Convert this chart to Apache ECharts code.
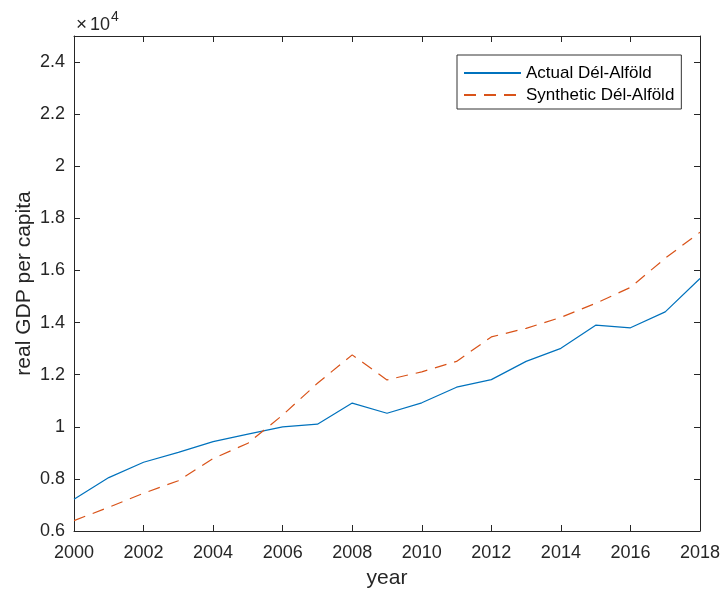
<!DOCTYPE html>
<html>
<head>
<meta charset="utf-8">
<script src="https://cdn.jsdelivr.net/npm/echarts@6/dist/echarts.min.js"></script>
<style>
html,body{margin:0;padding:0;background:#fff;}
#chart{width:723px;height:590px;}
</style>
</head>
<body>
<div id="chart"></div>
<script>
const years = [2000,2001,2002,2003,2004,2005,2006,2007,2008,2009,2010,2011,2012,2013,2014,2015,2016,2017,2018];
const actual = [7220,8050,8640,9020,9430,9720,10000,10100,10910,10520,10920,11520,11810,12510,13010,13900,13800,14410,15690];
const synthetic = [6400,6910,7450,7930,8780,9370,10450,11670,12760,11800,12110,12510,13450,13780,14200,14740,15350,16470,17470];
const seriesNames = ['Actual Dél-Alföld','Synthetic Dél-Alföld'];
const yTickValues = [6000,8000,10000,12000,14000,16000,18000,20000,22000,24000];

const FONT = '"Liberation Sans", Arial, sans-serif';
const INK = '#262626';

const chart = echarts.init(document.getElementById('chart'), null, {renderer:'canvas'});

const baseAxisLine = {show:true, lineStyle:{color:INK, width:1}};
const tick = {show:true, inside:true, length:6, lineStyle:{color:INK, width:1}};

chart.setOption({
  animation:false,
  backgroundColor:'#fff',
  grid:{left:74, right:23, top:36, bottom:59, containLabel:false, outerBoundsMode:'none'},
  legend:{
    orient:'vertical',
    left:457, top:55,
    data:seriesNames,
    backgroundColor:'#fff',
    borderColor:'#333',
    borderWidth:1,
    borderRadius:0,
    padding:[8,7,4,6],
    itemWidth:57,
    itemHeight:20,
    itemGap:2,
    itemStyle:{opacity:0},
    textStyle:{fontFamily:FONT, fontSize:17, color:'#000', lineHeight:20}
  },
  graphic:[{
    type:'text', left:76, top:15,
    style:{text:'×', font:'19px "Liberation Sans", Arial, sans-serif', fill:INK}
  },{
    type:'text', left:90, top:16,
    style:{text:'10', font:'18px "Liberation Sans", Arial, sans-serif', fill:INK}
  },{
    type:'text', left:111, top:10,
    style:{text:'4', font:'14px "Liberation Sans", Arial, sans-serif', fill:INK}
  }],
  xAxis:[{
    type:'value',
    min:years[0], max:years[years.length-1], interval:2,
    name:'year', nameLocation:'middle', nameGap:37, nameMoveOverlap:false,
    nameTextStyle:{fontFamily:FONT, fontSize:21, color:INK},
    axisLine:baseAxisLine, axisTick:tick,
    axisLabel:{fontFamily:FONT, fontSize:18, color:INK, margin:13, formatter:v=>String(v)},
    splitLine:{show:false}
  },{
    type:'value', position:'top',
    min:years[0], max:years[years.length-1], interval:2,
    axisLine:baseAxisLine, axisTick:tick,
    axisLabel:{show:false}, splitLine:{show:false}
  }],
  yAxis:[{
    type:'value',
    min:6000, max:25000, interval:2000,
    name:'real GDP per capita', nameLocation:'middle', nameGap:39, nameMoveOverlap:false,
    nameTextStyle:{fontFamily:FONT, fontSize:21, color:INK},
    axisLine:baseAxisLine, axisTick:tick,
    axisLabel:{fontFamily:FONT, fontSize:18, color:INK, margin:9, showMaxLabel:false,
      formatter:v=> yTickValues.indexOf(v) >= 0 ? String(parseFloat((v/10000).toFixed(1))) : ''},
    splitLine:{show:false}
  },{
    type:'value', position:'right',
    min:6000, max:25000, interval:2000,
    axisLine:baseAxisLine, axisTick:tick,
    axisLabel:{show:false}, splitLine:{show:false}
  }],
  series:[{
    name:seriesNames[0], type:'line', symbol:'none',
    data:years.map((y,i)=>[y, actual[i]]),
    color:'#0072BD',
    lineStyle:{color:'#0072BD', width:1.2}
  },{
    name:seriesNames[1], type:'line', symbol:'none',
    data:years.map((y,i)=>[y, synthetic[i]]),
    color:'#D95319',
    lineStyle:{color:'#D95319', width:1.2, type:[12,8]}
  }]
});
</script>
</body>
</html>
